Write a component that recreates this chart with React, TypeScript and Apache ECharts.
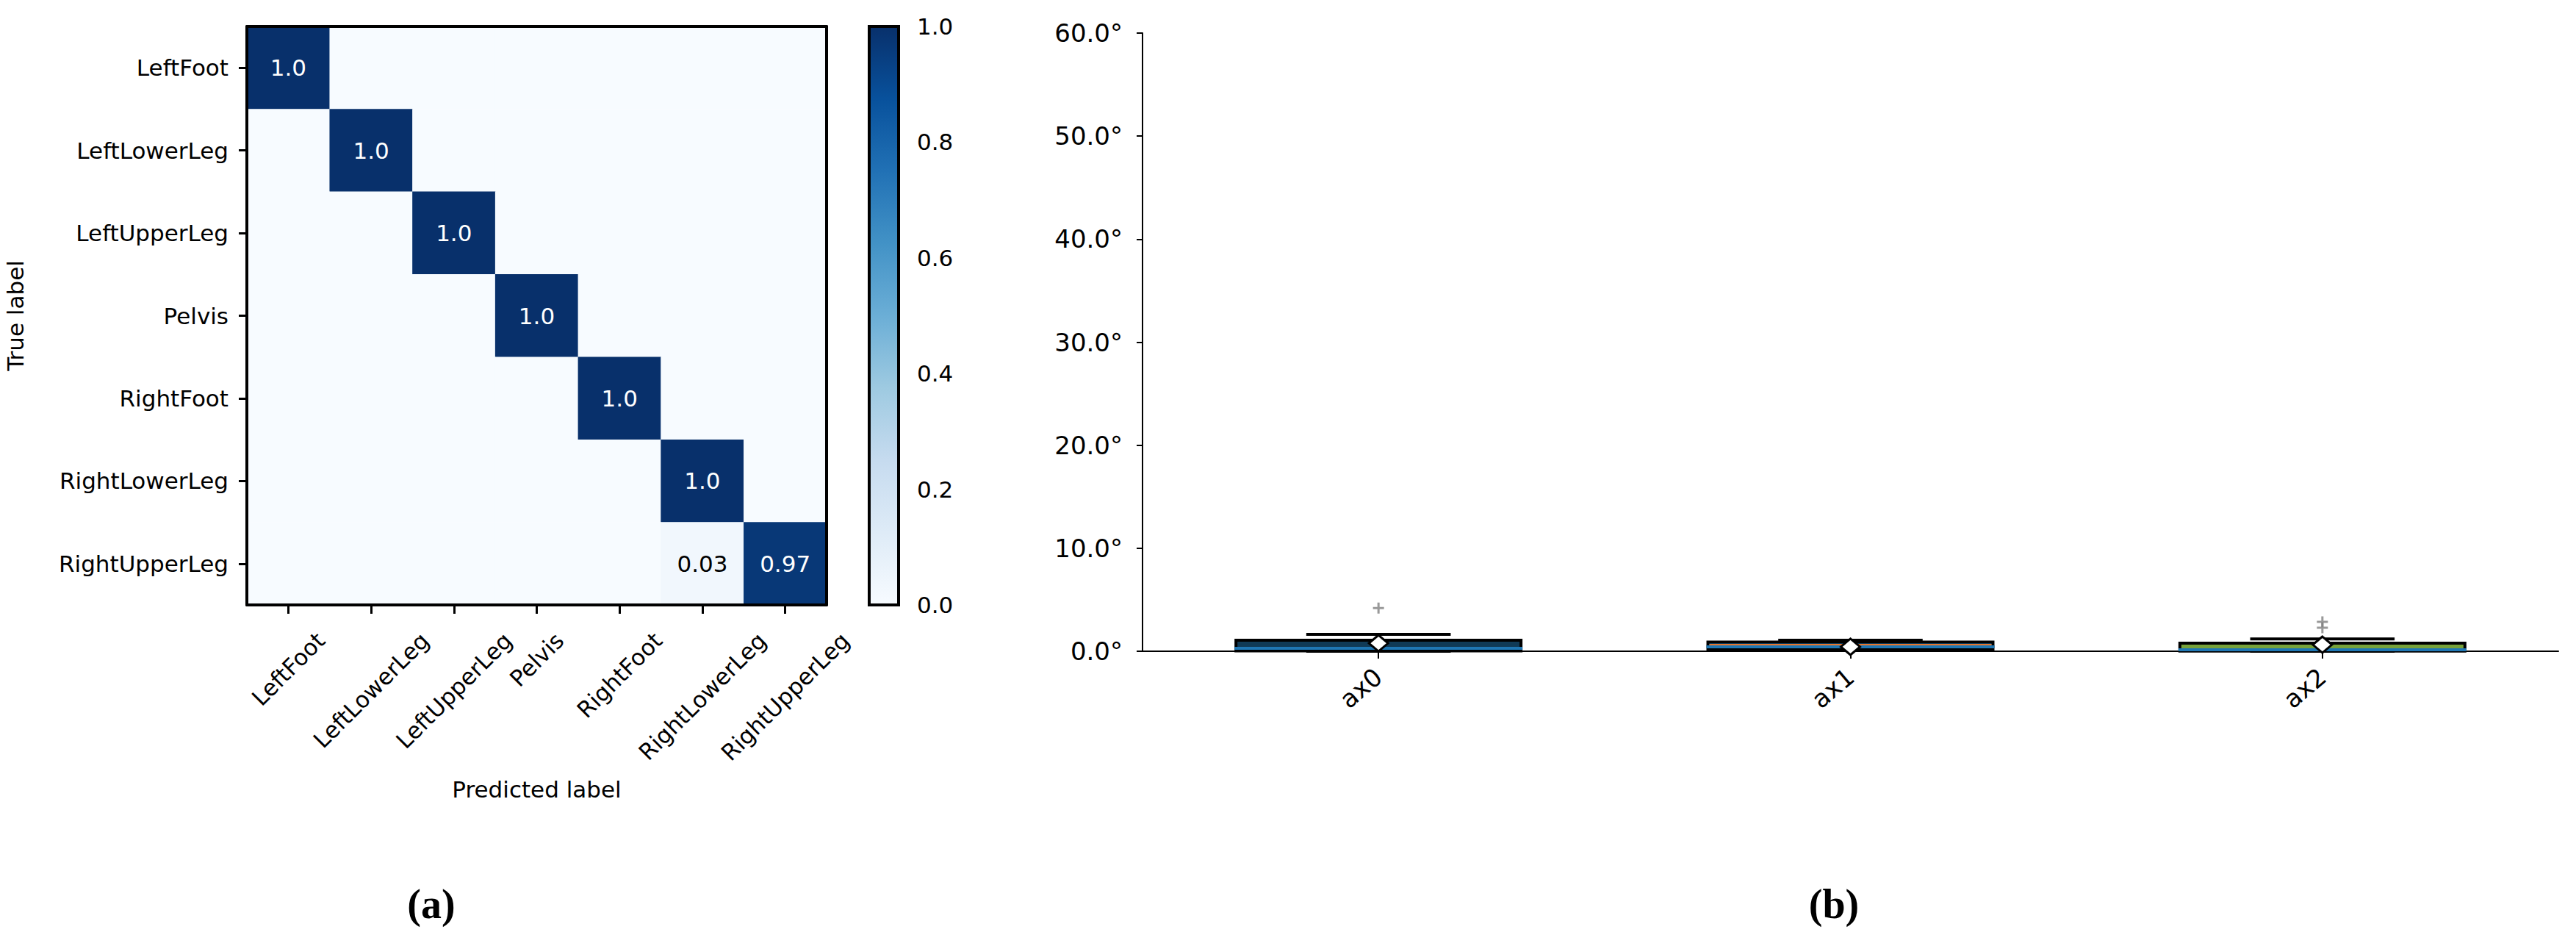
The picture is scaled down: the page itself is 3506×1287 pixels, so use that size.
import React, { useEffect, useRef } from "react";
import * as echarts from "echarts";

// ---------- data ----------
const LABELS = ["LeftFoot", "LeftLowerLeg", "LeftUpperLeg", "Pelvis", "RightFoot", "RightLowerLeg", "RightUpperLeg"];
const MATRIX = [
  [1, 0, 0, 0, 0, 0, 0],
  [0, 1, 0, 0, 0, 0, 0],
  [0, 0, 1, 0, 0, 0, 0],
  [0, 0, 0, 1, 0, 0, 0],
  [0, 0, 0, 0, 1, 0, 0],
  [0, 0, 0, 0, 0, 1, 0],
  [0, 0, 0, 0, 0, 0.03, 0.97],
];
const BLUES = ["#f7fbff", "#deebf7", "#c6dbef", "#9ecae1", "#6baed6", "#4292c6", "#2171b5", "#08519c", "#08306b"];

const BOX_CATS = ["ax0", "ax1", "ax2"];
const BOX_Q1 = [0.03, 0.2, 0.02];
const BOX_Q3 = [1.07, 0.9, 0.78];
const WHISK_LO = [0.0, 0.07, 0.0];
const WHISK_HI = [1.64, 1.07, 1.2];
const MEANS = [0.78, 0.43, 0.64];
const MEDIANS: (number | null)[] = [null, 0.64, null];
const BAND_LO = [0.14, 0.29, 0.0];
const BAND_HI = [0.43, 0.57, 0.28];
const FILLS = ["#103a56", "#1f77b4", "#77a23a"];
const OUTLIERS = [
  [0, 4.2],
  [2, 2.85],
  [2, 2.28],
];

const FONT = "DejaVu Sans";

function fmtCell(v: number) {
  return Number.isInteger(v) ? v.toFixed(1) : String(v);
}

export default function App() {
  const ref = useRef<HTMLDivElement>(null);

  useEffect(() => {
    document.body.style.margin = "0";
    if (!ref.current) return;
    const chart = echarts.init(ref.current, undefined, { renderer: "svg" });

    // measure label lengths for centred, top-aligned rotated labels
    const cv = document.createElement("canvas").getContext("2d")!;
    cv.font = `31px "${FONT}"`;
    const rich: Record<string, any> = {};
    LABELS.forEach((l, i) => {
      const L = cv.measureText(l).width;
      rich["r" + i] = {
        fontSize: 31,
        fontFamily: FONT,
        color: "#000",
        padding: [L / 2, L / 2, 0, 0],
      };
    });

    const heatData: any[] = [];
    MATRIX.forEach((row, y) =>
      row.forEach((v, x) => {
        heatData.push({ value: [x, y, v], label: { color: v > 0.5 ? "#ffffff" : "#000000" } });
      })
    );

    const borderAxis = {
      axisLine: { show: true, lineStyle: { color: "#000", width: 4 } },
      axisTick: { show: false },
      axisLabel: { show: false },
      splitLine: { show: false },
      z: 10,
    };

    const option: any = {
      animation: false,
      textStyle: { fontFamily: FONT },
      grid: [
        { left: 336, top: 36, width: 789, height: 787 },
        { left: 1183, top: 36, width: 40, height: 787 },
        { left: 1555, top: 45, width: 1927, height: 841 },
      ],
      visualMap: {
        type: "continuous",
        show: false,
        min: 0,
        max: 1,
        seriesIndex: 0,
        dimension: 2,
        inRange: { color: BLUES },
      },
      xAxis: [
        {
          gridIndex: 0,
          type: "category",
          data: LABELS,
          position: "bottom",
          axisLine: { show: true, lineStyle: { color: "#000", width: 4 } },
          axisTick: { show: true, alignWithLabel: true, length: 12, lineStyle: { color: "#000", width: 3 } },
          axisLabel: {
            interval: 0,
            rotate: 45,
            align: "center",
            verticalAlign: "middle",
            margin: 43,
            formatter: (v: string, i: number) => `{r${i}|${v}}`,
            rich,
          },
          splitLine: { show: false },
          name: "Predicted label",
          nameLocation: "middle",
          nameGap: 235,
          nameTextStyle: { fontSize: 31, fontFamily: FONT, color: "#000" },
          z: 10,
        },
        { gridIndex: 0, type: "category", data: LABELS, position: "top", ...borderAxis },
        { gridIndex: 1, type: "value", min: 0, max: 1, show: false },
        {
          gridIndex: 2,
          type: "category",
          data: BOX_CATS,
          axisLine: { show: true, lineStyle: { color: "#000", width: 2 } },
          axisTick: { show: true, alignWithLabel: true, length: 10, lineStyle: { color: "#000", width: 2 } },
          axisLabel: { rotate: 40, fontSize: 34, fontFamily: FONT, color: "#000", margin: 30, interval: 0 },
          splitLine: { show: false },
        },
      ],
      yAxis: [
        {
          gridIndex: 0,
          type: "category",
          data: LABELS,
          inverse: true,
          position: "left",
          axisLine: { show: true, lineStyle: { color: "#000", width: 4 } },
          axisTick: { show: true, alignWithLabel: true, length: 11, lineStyle: { color: "#000", width: 3 } },
          axisLabel: { fontSize: 31, fontFamily: FONT, color: "#000", margin: 25, interval: 0 },
          splitLine: { show: false },
          name: "True label",
          nameLocation: "middle",
          nameGap: 300,
          nameRotate: 90,
          nameTextStyle: { fontSize: 31, fontFamily: FONT, color: "#000" },
          z: 10,
        },
        { gridIndex: 0, type: "category", data: LABELS, inverse: true, position: "right", ...borderAxis },
        {
          gridIndex: 1,
          type: "value",
          min: 0,
          max: 1,
          interval: 0.2,
          position: "right",
          axisLine: { show: false },
          axisTick: { show: true, length: 10, lineStyle: { color: "#000", width: 3 } },
          axisLabel: {
            fontSize: 31,
            fontFamily: FONT,
            color: "#000",
            margin: 25,
            formatter: (v: number) => v.toFixed(1),
          },
          splitLine: { show: false },
        },
        {
          gridIndex: 2,
          type: "value",
          min: 0,
          max: 60,
          interval: 10,
          axisLine: { show: true, lineStyle: { color: "#000", width: 2 } },
          axisTick: { show: true, length: 8, lineStyle: { color: "#000", width: 2 } },
          axisLabel: {
            fontSize: 34,
            fontFamily: FONT,
            color: "#000",
            margin: 27,
            formatter: (v: number) => v.toFixed(1) + "°",
          },
          splitLine: { show: false },
        },
      ],
      series: [
        {
          type: "heatmap",
          xAxisIndex: 0,
          yAxisIndex: 0,
          data: heatData,
          label: {
            show: true,
            fontSize: 31,
            fontFamily: FONT,
            formatter: (p: any) => (p.value[2] === 0 ? "" : fmtCell(p.value[2])),
          },
          emphasis: { disabled: true },
          itemStyle: { borderWidth: 0 },
        },
        {
          type: "custom",
          xAxisIndex: 2,
          yAxisIndex: 2,
          data: [[0, 0]],
          renderItem: (params: any, api: any) => {
            const p0 = api.coord([0, 0]);
            const p1 = api.coord([1, 1]);
            return {
              type: "rect",
              shape: { x: p0[0], y: p1[1], width: p1[0] - p0[0], height: p0[1] - p1[1] },
              style: {
                fill: new echarts.graphic.LinearGradient(
                  0,
                  1,
                  0,
                  0,
                  BLUES.map((c, i) => ({ offset: i / (BLUES.length - 1), color: c }))
                ),
                stroke: "#000",
                lineWidth: 4,
              },
            };
          },
        },
        {
          type: "custom",
          xAxisIndex: 3,
          yAxisIndex: 3,
          data: BOX_CATS.map((_, i) => [i, BOX_Q1[i], BOX_Q3[i], WHISK_LO[i], WHISK_HI[i], MEANS[i], BAND_LO[i], BAND_HI[i]]),
          renderItem: (params: any, api: any) => {
            const i = params.dataIndex;
            const idx = api.value(0);
            const xc = api.coord([idx, 0])[0];
            const bw = api.size([1, 0])[0];
            const Y = (v: number) => api.coord([idx, v])[1];
            const hb = bw * 0.302;
            const hc = bw * 0.153;
            const q1 = api.value(1), q3 = api.value(2), wl = api.value(3), wh = api.value(4);
            const mean = api.value(5), bl = api.value(6), bh = api.value(7);
            const children: any[] = [
              { type: "line", shape: { x1: xc, y1: Y(q3), x2: xc, y2: Y(wh) }, style: { stroke: "#000", lineWidth: 3 } },
              { type: "line", shape: { x1: xc, y1: Y(q1), x2: xc, y2: Y(wl) }, style: { stroke: "#000", lineWidth: 3 } },
              { type: "line", shape: { x1: xc - hc, y1: Y(wh), x2: xc + hc, y2: Y(wh) }, style: { stroke: "#000", lineWidth: 4 } },
              { type: "line", shape: { x1: xc - hc, y1: Y(wl), x2: xc + hc, y2: Y(wl) }, style: { stroke: "#000", lineWidth: 4 } },
              {
                type: "rect",
                shape: { x: xc - hb, y: Y(q3), width: 2 * hb, height: Y(q1) - Y(q3) },
                style: { fill: FILLS[i], stroke: "#000", lineWidth: 4 },
              },
              {
                type: "rect",
                shape: { x: xc - hb - 2, y: Y(bh), width: 2 * hb + 4, height: Y(bl) - Y(bh) },
                style: { fill: "#1f77b4" },
              },
            ];
            const med = MEDIANS[i];
            if (med !== null) {
              children.push({
                type: "line",
                shape: { x1: xc - hb + 2, y1: Y(med), x2: xc + hb - 2, y2: Y(med) },
                style: { stroke: "#e8772e", lineWidth: 2 },
              });
            }
            const ym = Y(mean);
            children.push({
              type: "polygon",
              shape: { points: [[xc, ym - 11], [xc + 13, ym], [xc, ym + 11], [xc - 13, ym]] },
              style: { fill: "#fff", stroke: "#000", lineWidth: 3 },
            });
            return { type: "group", children };
          },
        },
        {
          type: "scatter",
          xAxisIndex: 3,
          yAxisIndex: 3,
          data: OUTLIERS,
          symbol: "path://M6,0H9V6H15V9H9V15H6V9H0V6H6Z",
          symbolSize: 15,
          itemStyle: { color: "#808080" },
          emphasis: { disabled: true },
        },
      ],
      graphic: [
        { type: "text", x: 587, y: 1230, style: { text: "(a)", font: 'bold 56px "Liberation Serif"', fill: "#000", align: "center", verticalAlign: "middle" } },
        { type: "text", x: 2496, y: 1230, style: { text: "(b)", font: 'bold 56px "Liberation Serif"', fill: "#000", align: "center", verticalAlign: "middle" } },
      ],
    };

    chart.setOption(option);
    return () => chart.dispose();
  }, []);

  return <div ref={ref} style={{ width: 3506, height: 1287 }} />;
}
